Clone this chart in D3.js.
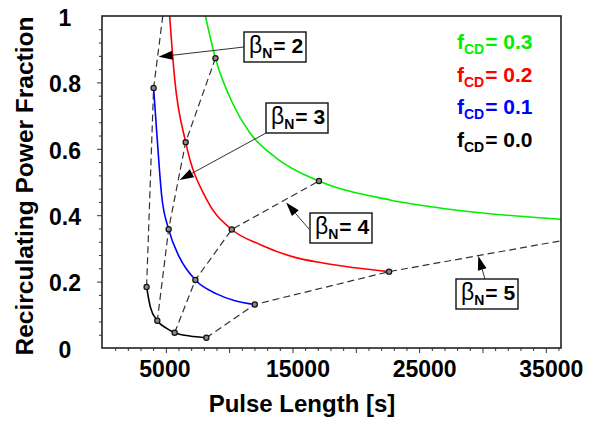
<!DOCTYPE html>
<html>
<head>
<meta charset="utf-8">
<script src="https://cdn.jsdelivr.net/npm/d3@7"></script>
<style>
body { margin: 0; background: #fff; }
text { font-family: "Liberation Sans", Arial, sans-serif; font-weight: bold; fill: #000; }
</style>
</head>
<body>
<div id="chart"></div>
<script>
// values: [pulse length (s), recirculating power fraction]
var fcd03 = [[8125,1.0],[8916,0.873],[10300,0.735],[11600,0.65],[13800,0.57],[17090,0.503],[22700,0.446],[28000,0.415],[36200,0.388]];
var fcd02 = [[5301,1.0],[5700,0.81],[6566,0.62],[8228,0.447],[10206,0.357],[12421,0.312],[15190,0.273],[17405,0.256],[22627,0.230]];
var fcd01 = [[4035,0.783],[4300,0.64],[4668,0.46],[5222,0.358],[6092,0.272],[7334,0.205],[9019,0.163],[12025,0.131]];
var fcd00 = [[3481,0.184],[3774,0.124],[4328,0.082],[5040,0.060],[5696,0.046],[6883,0.036],[8203,0.031]];

// constant beta_N lines (dashed), joining the curves
var beta2 = [[4760,1.0],[4035,0.783],[3481,0.184]];
var beta3 = [[8916,0.873],[6566,0.62],[5222,0.358],[4328,0.082]];
var beta4 = [[5696,0.046],[7334,0.205],[10206,0.357],[17090,0.503]];
var beta5 = [[8203,0.031],[12025,0.131],[22627,0.230],[36200,0.323]];

var fcdNames = ["0.3", "0.2", "0.1", "0.0"];
var betaNames = ["2", "3", "4", "5"];
// where each beta arrow points
var betaTips = [[4430,0.877],[6092,0.506],[14500,0.438],[29668,0.277]];

var xLabels = [5000, 15000, 25000, 35000];
var yLabels = [0, 0.2, 0.4, 0.6, 0.8, 1];

var width = 598, height = 421;
var colors = ["#00ee00", "#ff0000", "#0000ff", "#000000"];

var svg = d3.select("#chart").append("svg")
    .attr("width", width)
    .attr("height", height);

var x = d3.scaleLinear().domain([0, 36200]).range([102.5, 561]);
var y = d3.scaleLinear().domain([0, 1]).range([348, 16]);

svg.append("clipPath").attr("id", "plot")
  .append("rect")
    .attr("x", 102).attr("y", 16)
    .attr("width", 459).attr("height", 332);

// minor / major ticks
var xt = svg.append("g")
    .attr("transform", "translate(0,348)")
    .call(d3.axisBottom(x).tickValues(d3.range(1000, 36001, 1000)).tickSize(3).tickFormat(""));
xt.select(".domain").remove();
xt.selectAll(".tick line")
    .attr("stroke", "#333")
    .attr("y2", function(d) { return d % 5000 === 0 ? 5 : 3; });

var yt = svg.append("g")
    .attr("transform", "translate(102,0)")
    .call(d3.axisLeft(y).tickValues(d3.range(0.04, 0.97, 0.04)).tickSize(3).tickFormat(""));
yt.select(".domain").remove();
yt.selectAll(".tick line")
    .attr("stroke", "#333")
    .attr("x2", function(d) { return Math.abs(d * 5 - Math.round(d * 5)) < 1e-6 ? -5 : -3; });

// tick labels
var xl = svg.append("g")
    .attr("transform", "translate(0,348)")
    .call(d3.axisBottom(x).tickValues(xLabels).tickSize(0).tickFormat(d3.format("d")));
xl.select(".domain").remove();
xl.selectAll("text")
    .attr("x", -27).attr("y", 29).attr("dy", null)
    .attr("text-anchor", "start")
    .style("font-size", "23px");

var yl = svg.append("g")
    .attr("transform", "translate(102,0)")
    .call(d3.axisLeft(y).tickValues(yLabels).tickSize(0)
      .tickFormat(function(d) { return d === 0 || d === 1 ? d : d.toFixed(1); }));
yl.select(".domain").remove();
yl.selectAll("text")
    .attr("x", -37).attr("dy", "0.4em")
    .attr("text-anchor", "middle")
    .style("font-size", "23px");

// axis titles
svg.append("text")
    .attr("x", 302).attr("y", 412)
    .attr("text-anchor", "middle")
    .style("font-size", "24px")
    .text("Pulse Length [s]");

svg.append("text")
    .attr("transform", "translate(33,186) rotate(-90)")
    .attr("text-anchor", "middle")
    .style("font-size", "24.5px")
    .text("Recirculating Power Fraction");

var plot = svg.append("g").attr("clip-path", "url(#plot)");

var line = d3.line()
    .x(function(d) { return x(d[0]); })
    .y(function(d) { return y(d[1]); });

var curve = d3.line()
    .x(function(d) { return x(d[0]); })
    .y(function(d) { return y(d[1]); })
    .curve(d3.curveMonotoneX);

// dashed beta lines
[beta2, beta3, beta4, beta5].forEach(function(b) {
  plot.append("path")
      .attr("d", line(b))
      .attr("fill", "none")
      .attr("stroke", "#333")
      .attr("stroke-width", 1.2)
      .attr("stroke-dasharray", "7,4");
});

// f_CD curves
[fcd03, fcd02, fcd01, fcd00].forEach(function(c, i) {
  plot.append("path")
      .attr("d", curve(c))
      .attr("fill", "none")
      .attr("stroke", colors[i])
      .attr("stroke-width", 1.6);
});

// markers where the beta lines meet the curves
[beta2, beta3, beta4, beta5].forEach(function(b) {
  plot.selectAll(null)
      .data(b.filter(function(d) { return d[1] < 0.99 && d[0] < 36000; }))
      .enter().append("circle")
      .attr("cx", function(d) { return x(d[0]); })
      .attr("cy", function(d) { return y(d[1]); })
      .attr("r", 2.6)
      .attr("fill", "#888")
      .attr("stroke", "#111")
      .attr("stroke-width", 1.2);
});

// frame
svg.append("rect")
    .attr("x", 102).attr("y", 16)
    .attr("width", 459).attr("height", 332)
    .attr("fill", "none")
    .attr("stroke", "#222")
    .attr("stroke-width", 1.6);

// legend
fcdNames.forEach(function(n, i) {
  var t = svg.append("text")
      .attr("x", 457).attr("y", 49 + i * 32.7)
      .style("font-size", "21px")
      .style("fill", colors[i]);
  t.append("tspan").text("f");
  t.append("tspan").attr("dy", 5).style("font-size", "14px").text("CD");
  t.append("tspan").attr("dy", -5).attr("dx", 1).text("= " + n);
});

// beta_N boxes with arrows
var boxes = [[244,32],[266,103],[310,213],[456,279]];
var tails = [[244,47],[266,133],[309,229],[485,279]];

betaNames.forEach(function(n, i) {
  var tx = x(betaTips[i][0]), ty = y(betaTips[i][1]);
  var sx = tails[i][0], sy = tails[i][1];
  var len = Math.hypot(tx - sx, ty - sy);
  var ux = (tx - sx) / len, uy = (ty - sy) / len;
  var bx = tx - ux * 14, by = ty - uy * 14;

  svg.append("line")
      .attr("x1", sx).attr("y1", sy)
      .attr("x2", bx).attr("y2", by)
      .attr("stroke", "#333")
      .attr("stroke-width", 1);
  svg.append("path")
      .attr("d", "M" + tx + "," + ty +
                 "L" + (bx - uy * 4.5) + "," + (by + ux * 4.5) +
                 "L" + (bx + uy * 4.5) + "," + (by - ux * 4.5) + "Z")
      .attr("fill", "#000");

  svg.append("rect")
      .attr("x", boxes[i][0]).attr("y", boxes[i][1])
      .attr("width", 62).attr("height", 30)
      .attr("fill", "#fff")
      .attr("stroke", "#111")
      .attr("stroke-width", 1.4);

  var t = svg.append("text")
      .attr("x", boxes[i][0] + 5).attr("y", boxes[i][1] + 21)
      .style("font-size", "21px");
  t.append("tspan").style("font-weight", "normal").style("font-size", "23px").text("\u03b2");
  t.append("tspan").attr("dy", 5).style("font-size", "14px").text("N");
  t.append("tspan").attr("dy", -5).attr("dx", 1).text("= " + n);
});
</script>
</body>
</html>
